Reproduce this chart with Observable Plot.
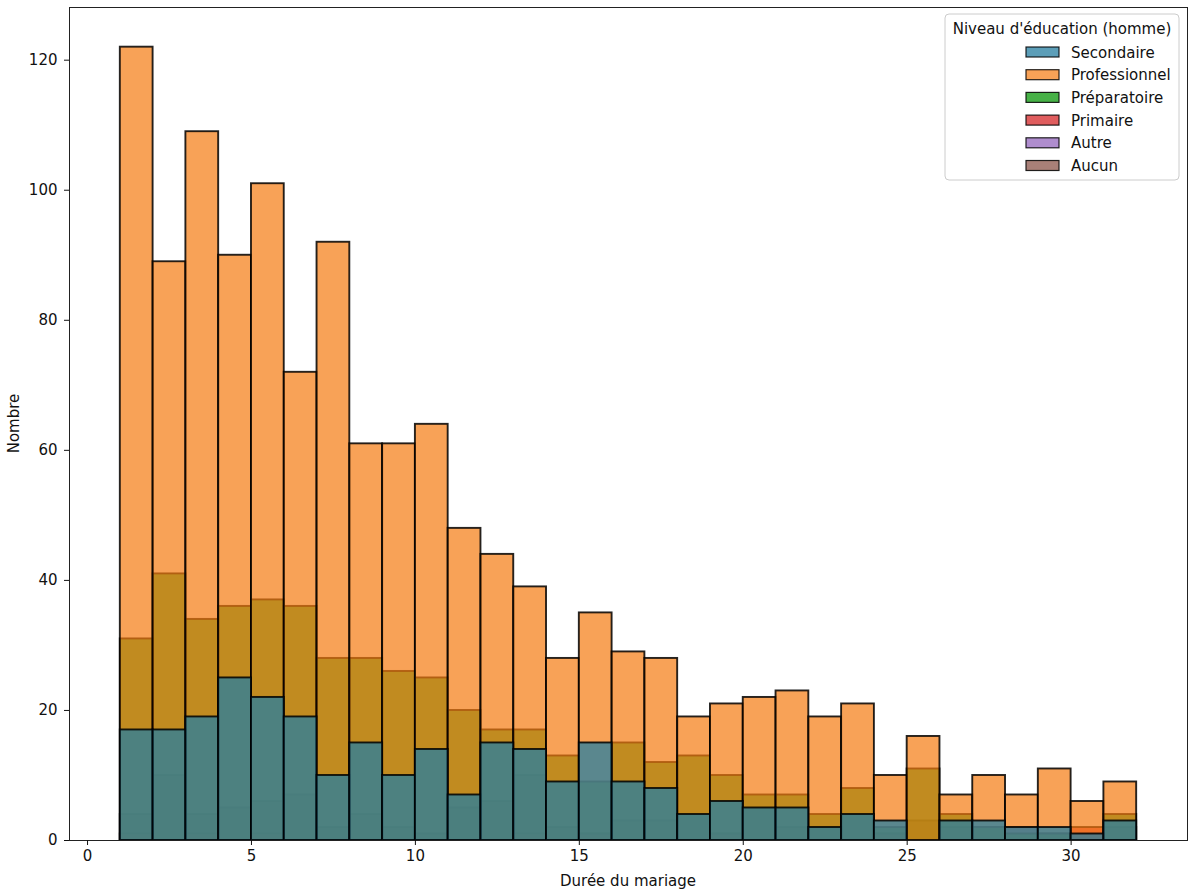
<!DOCTYPE html>
<html><head><meta charset="utf-8">
<script src="https://cdn.jsdelivr.net/npm/d3@7"></script>
<script src="https://cdn.jsdelivr.net/npm/@observablehq/plot@0.6"></script>
<style>
body{margin:0;background:#fff;}
#chart{position:relative;width:1196px;height:896px;}
</style>
</head><body><div id="chart"></div>
<script>
// Histogram bins (start of each 1-year bin)
const binStart = [1,2,3,4,5,6,7,8,9,10,11,12,13,14,15,16,17,18,19,20,21,22,23,24,25,26,27,28,29,30,31];
const categories = ["Secondaire","Professionnel","Préparatoire","Primaire","Autre","Aucun"];
const colors = ["#267ea0","#f57a10","#1fa01f","#d62728","#9467bd","#8c564b"];
const opacities = [0.75, 0.7, 0.82, 0.75, 0.75, 0.75];

const secondaire    = [17,17,19,25,22,19,10,15,10,14,7,15,14,9,15,9,8,4,6,5,5,2,4,3,0,3,3,2,2,1,3];
const professionnel = [122,89,109,90,101,72,92,61,61,64,48,44,39,28,35,29,28,19,21,22,23,19,21,10,16,7,10,7,11,6,9];
const preparatoire  = [31,41,34,36,37,36,28,28,26,25,20,17,17,13,9,15,12,13,10,7,7,4,8,2,11,4,2,1,1,0,4];
const primaire      = [1,0,1,0,1,0,0,0,0,0,0,0,1,0,1,0,0,0,1,0,0,0,0,1,0,0,0,0,0,2,0];
const autre         = [0,0,0,0,0,0,0,0,0,0,0,0,0,0,0,0,0,0,0,0,0,0,0,0,0,0,0,2,0,0,0];
const aucun         = [4,10,4,5,6,7,2,4,2,1,5,6,10,2,1,3,3,4,1,5,2,2,4,1,3,2,2,1,1,0,2];

const xTicks = [0,5,10,15,20,25,30];
const yTicks = [0,20,40,60,80,100,120];
const xLabel = "Durée du mariage";
const yLabel = "Nombre";
const legendTitle = "Niveau d'éducation (homme)";

const series = {
  "Secondaire": secondaire, "Professionnel": professionnel, "Préparatoire": preparatoire,
  "Primaire": primaire, "Autre": autre, "Aucun": aucun
};
const rows = categories.flatMap(c => binStart.map((b, i) => ({cat: c, x0: b, x1: b + 1, n: series[c][i]})));
const drawOrder = categories.slice().reverse();

const barMarks = drawOrder.map(c => Plot.rect(rows.filter(d => d.cat === c), {
  x1: "x0", x2: "x1", y1: 0, y2: "n", fill: "cat",
  fillOpacity: opacities[categories.indexOf(c)],
  stroke: "black", strokeOpacity: 0.85, strokeWidth: 1.9
}));

const W = 1196, H = 896, mL = 69, mR = 9, mT = 7, mB = 56;
const svg = Plot.plot({
  width: W, height: H,
  marginLeft: mL, marginRight: mR, marginTop: mT, marginBottom: mB,
  x: {domain: [-0.55, 33.55]},
  y: {domain: [0, 128.1]},
  color: {domain: categories, range: colors},
  style: {fontFamily: "DejaVu Sans", fontSize: "15px", color: "#111", background: "#fff"},
  marks: [
    ...barMarks,
    Plot.frame({stroke: "#222", strokeWidth: 1}),
    Plot.axisX({ticks: xTicks, tickSize: 5, tickPadding: 5, label: null, fontSize: 15}),
    Plot.axisY({ticks: yTicks, tickSize: 5, tickPadding: 7, label: null, fontSize: 15})
  ]
});
document.getElementById("chart").appendChild(svg);

const s = d3.select(svg);
s.append("text").attr("x", mL + (W - mL - mR) / 2).attr("y", 886)
  .attr("text-anchor", "middle").attr("fill", "#111").style("font-size", "15px").text(xLabel);
s.append("text").attr("transform", `translate(19,${mT + (H - mT - mB) / 2}) rotate(-90)`)
  .attr("text-anchor", "middle").attr("fill", "#111").style("font-size", "15px").text(yLabel);

// Legend inside the plot area (upper right)
const lg = s.append("g");
lg.append("rect").attr("x", 945).attr("y", 14).attr("width", 234).attr("height", 166)
  .attr("rx", 4).attr("fill", "#fff").attr("fill-opacity", 0.8).attr("stroke", "#ccc");
lg.append("text").attr("x", 1062).attr("y", 34).attr("text-anchor", "middle")
  .attr("fill", "#111").style("font-size", "15px").text(legendTitle);
categories.forEach((c, i) => {
  const cy = 52 + i * 22.7;
  lg.append("rect").attr("x", 1026).attr("y", cy - 5).attr("width", 33).attr("height", 10)
    .attr("fill", colors[i]).attr("fill-opacity", opacities[i])
    .attr("stroke", "black").attr("stroke-opacity", 0.85).attr("stroke-width", 1.2);
  lg.append("text").attr("x", 1071).attr("y", cy + 5.5).attr("text-anchor", "start")
    .attr("fill", "#111").style("font-size", "15px").text(c);
});
</script>
</body></html>
